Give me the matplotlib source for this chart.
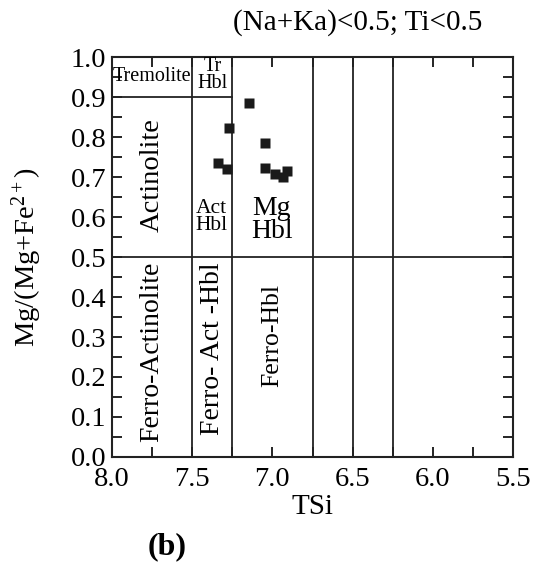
import matplotlib.pyplot as plt
from matplotlib.ticker import MultipleLocator

plt.rcParams['font.family'] = ['Liberation Serif', 'DejaVu Serif']
plt.rcParams['mathtext.fontset'] = 'custom'
plt.rcParams['mathtext.rm'] = 'Liberation Serif'
plt.rcParams['mathtext.it'] = 'Liberation Serif:italic'
plt.rcParams['mathtext.bf'] = 'Liberation Serif:bold'

# amphibole analyses: Si per formula unit and Mg/(Mg+Fe2+)
tsi = [7.148, 7.269, 7.046, 7.337, 7.285, 7.046, 6.982, 6.936, 6.907]
mg_no = [0.884, 0.822, 0.784, 0.736, 0.721, 0.722, 0.707, 0.699, 0.714]

# field boundaries
si_bounds = [7.5, 7.25, 6.75, 6.5, 6.25]
mg_bounds = [0.5]

fig = plt.figure(figsize=(5.39, 5.82), dpi=100)
ax = fig.add_axes([0.2078, 0.2148, 0.744, 0.6872])

for x in si_bounds:
    ax.axvline(x, color='#222222', lw=1.3)
for y in mg_bounds:
    ax.axhline(y, color='#222222', lw=1.3)
ax.plot([8.0, 7.25], [0.9, 0.9], color='#222222', lw=1.3)

ax.plot(tsi, mg_no, 's', color='#1a1a1a', ms=7.5, mec='none')

# field names
ax.text(7.753, 0.951, 'Tremolite', fontsize=14.5, ha='center', va='center')
ax.text(7.37, 0.955, 'Tr\nHbl', fontsize=14.5, ha='center', va='center', linespacing=0.8)
ax.text(7.75, 0.705, 'Actinolite', fontsize=20.5, rotation=90, ha='center', va='center')
ax.text(7.378, 0.60, 'Act\nHbl', fontsize=15.5, ha='center', va='center', linespacing=0.9)
ax.text(7.004, 0.593, 'Mg\nHbl', fontsize=20, ha='center', va='center', linespacing=0.9)
ax.text(7.75, 0.262, 'Ferro-Actinolite', fontsize=20, rotation=90, ha='center', va='center')
ax.text(7.375, 0.27, 'Ferro- Act -Hbl', fontsize=20, rotation=90, ha='center', va='center')
ax.text(7.0, 0.305, 'Ferro-Hbl', fontsize=18.5, rotation=90, ha='center', va='center')

ax.set_xlim(8.0, 5.5)
ax.set_ylim(0.0, 1.0)
ax.xaxis.set_major_locator(MultipleLocator(0.5))
ax.xaxis.set_minor_locator(MultipleLocator(0.25))
ax.yaxis.set_major_locator(MultipleLocator(0.1))
ax.yaxis.set_minor_locator(MultipleLocator(0.05))
ax.xaxis.set_major_formatter(lambda v, p: f'{v:.1f}')
ax.yaxis.set_major_formatter(lambda v, p: f'{v:.1f}')
ax.tick_params(which='both', direction='in', top=True, right=True, length=7,
               width=1.2, labelsize=20.5)
ax.tick_params(axis='x', pad=7)
ax.tick_params(axis='y', pad=4)
for s in ax.spines.values():
    s.set_linewidth(1.5)
    s.set_color('#222222')

ax.set_xlabel('TSi', fontsize=21, labelpad=2)
ax.set_ylabel('Mg/(Mg+Fe$^{2+}$)', fontsize=20.5)
ax.yaxis.set_label_coords(-0.17, 0.5)

fig.text(0.664, 0.962, '(Na+Ka)<0.5; Ti<0.5', fontsize=21, ha='center', va='center')
fig.text(0.31, 0.06, '(b)', fontsize=23, fontweight='bold', ha='center', va='center')

fig.savefig('out.png', dpi=100)
